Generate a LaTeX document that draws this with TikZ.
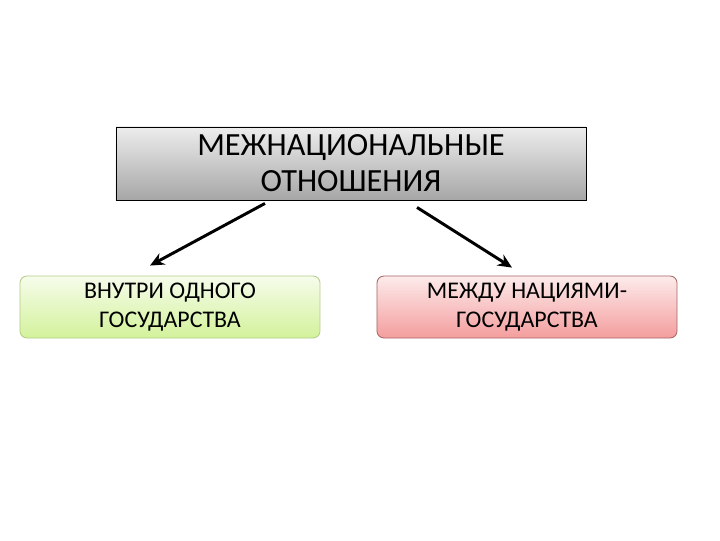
\documentclass[tikz,border=0pt]{standalone}
\usepackage{fontspec}
\setmainfont{Carlito}
\usetikzlibrary{arrows.meta}

\definecolor{topgray}{HTML}{EDEDED}
\definecolor{botgray}{HTML}{A6A6A6}
\definecolor{greenlt}{HTML}{F6FCEB}
\definecolor{greendk}{HTML}{D3F29B}
\definecolor{greenrim}{HTML}{B4CC8A}
\definecolor{redlt}{HTML}{FDEBEB}
\definecolor{reddk}{HTML}{F49D9D}
\definecolor{redrim}{HTML}{A86565}

\begin{document}
\begin{tikzpicture}[x=0.025cm,y=-0.025cm,
	headbox/.style={draw=black, line width=0.6pt, top color=topgray, bottom color=botgray,
		minimum width=11.75cm, minimum height=1.825cm, align=center, font=\fontsize{23}{25.5}\selectfont},
	subbox/.style={rounded corners=5pt, line width=0.6pt,
		minimum width=7.5cm, minimum height=1.55cm, align=center, font=\fontsize{17}{20.5}\selectfont},
	arr/.style={-{Stealth[length=10pt,width=9pt]}, line width=2.1pt}]
\useasboundingbox (0,0) rectangle (720,540);
	\node[headbox] (rel) at (351,163.5) {МЕЖНАЦИОНАЛЬНЫЕ\\ОТНОШЕНИЯ};
	\node[subbox, draw=greenrim, top color=greenlt, bottom color=greendk] (inner) at (170,307) {ВНУТРИ ОДНОГО\\ГОСУДАРСТВА};
	\node[subbox, draw=redrim, top color=redlt, bottom color=reddk] (outer) at (527,307) {МЕЖДУ НАЦИЯМИ-\\ГОСУДАРСТВА};
	\draw[arr] ([xshift=-2.15cm,yshift=-0.075cm]rel.south) -- ([xshift=-0.5cm,yshift=0.25cm]inner.north);
	\draw[arr] ([xshift=1.65cm,yshift=-0.175cm]rel.south) -- ([xshift=-0.375cm,yshift=0.2cm]outer.north);
\end{tikzpicture}
\end{document}
